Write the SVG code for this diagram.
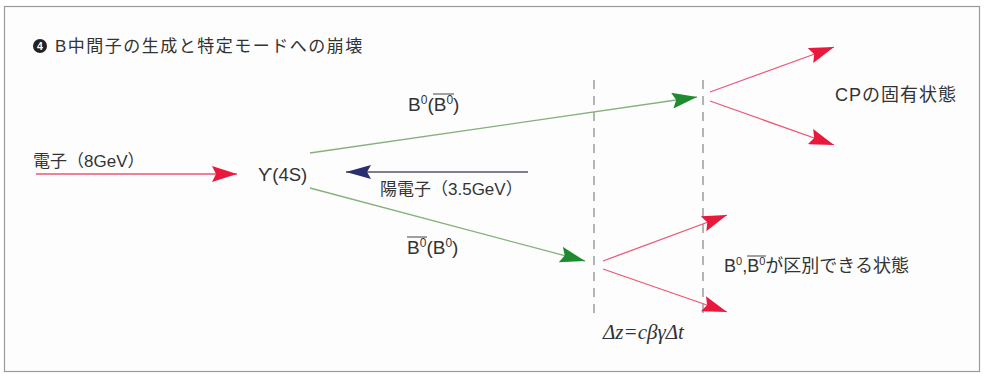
<svg xmlns="http://www.w3.org/2000/svg" width="985" height="379" viewBox="0 0 985 379">
<defs>
<style>
.t{font-family:"Liberation Sans","Noto Sans CJK JP",sans-serif;fill:#333}
.dash{stroke:#8a8f8c;stroke-width:1.3;stroke-dasharray:9,7;fill:none}
.red{stroke:#ee5577;stroke-width:1.3;fill:none}
.grn{stroke:#86b07a;stroke-width:1.3;fill:none}
.blu{stroke:#555566;stroke-width:1.3;fill:none}
.ol{stroke:#444;stroke-width:1}
</style>
<marker id="ar" markerWidth="25" markerHeight="16" refX="25" refY="8" orient="auto" markerUnits="userSpaceOnUse"><path d="M0,0 L25,8 L0,16 L4,8 Z" fill="#e8193c"/></marker>
<marker id="ag" markerWidth="25" markerHeight="16" refX="25" refY="8" orient="auto" markerUnits="userSpaceOnUse"><path d="M0,0 L25,8 L0,16 L4,8 Z" fill="#1f8a2e"/></marker>
<marker id="ab" markerWidth="25" markerHeight="14" refX="25" refY="7" orient="auto" markerUnits="userSpaceOnUse"><path d="M0,0 L25,7 L0,14 L4,7 Z" fill="#2a2f6e"/></marker>
</defs>
<rect x="0" y="0" width="985" height="379" fill="#fff"/>
<rect x="4.5" y="6.5" width="975" height="365" fill="#fdfdfd" stroke="#9a9a9a" stroke-width="1.2"/>
<g id="title">
<circle cx="40" cy="46" r="7" fill="#222"/>
<text x="40" y="50" font-size="10.5" text-anchor="middle" font-weight="bold" style="font-family:'Liberation Sans',sans-serif;fill:#fff">4</text>
<text class="t" x="55" y="52" font-size="17" letter-spacing="1.5">B中間子の生成と特定モードへの崩壊</text>
</g>
<g id="connectors">
<line class="dash" x1="594" y1="80" x2="594" y2="318"/>
<line class="dash" x1="703" y1="80" x2="703" y2="318"/>
<line class="red" x1="36" y1="174" x2="237" y2="174" marker-end="url(#ar)"/>
<line class="blu" x1="528" y1="172" x2="346" y2="172" marker-end="url(#ab)"/>
<line class="grn" x1="310" y1="153" x2="697" y2="97" marker-end="url(#ag)"/>
<line class="grn" x1="310" y1="188" x2="585" y2="261" marker-end="url(#ag)"/>
<line class="red" x1="710" y1="92" x2="834" y2="47" marker-end="url(#ar)"/>
<line class="red" x1="710" y1="101" x2="834" y2="145" marker-end="url(#ar)"/>
<line class="red" x1="603" y1="261" x2="727" y2="215" marker-end="url(#ar)"/>
<line class="red" x1="603" y1="269" x2="727" y2="312" marker-end="url(#ar)"/>
</g>
<g id="electron"><text class="t" x="33" y="167" font-size="17">電子（8GeV）</text></g>
<g id="upsilon"><text class="t" x="258" y="181" font-size="18.5">ϒ(4S)</text></g>
<g id="positron"><text class="t" x="380" y="195" font-size="17">陽電子（3.5GeV）</text></g>
<g id="b0top">
<text class="t" x="408" y="111" font-size="19">B<tspan font-size="12" dy="-7">0</tspan><tspan dy="7">(B</tspan><tspan font-size="12" dy="-7">0</tspan><tspan dy="7">)</tspan></text>
<line class="ol" x1="433" y1="94" x2="454" y2="94"/>
</g>
<g id="b0bottom">
<text class="t" x="407" y="254" font-size="19">B<tspan font-size="12" dy="-7">0</tspan><tspan dy="7">(B</tspan><tspan font-size="12" dy="-7">0</tspan><tspan dy="7">)</tspan></text>
<line class="ol" x1="407" y1="237" x2="427" y2="237"/>
</g>
<g id="cp"><text class="t" x="835" y="101" font-size="18" letter-spacing="1">CPの固有状態</text></g>
<g id="distinct">
<text class="t" x="724" y="272" font-size="18">B<tspan font-size="11" dy="-7">0</tspan><tspan dy="7">,B</tspan><tspan font-size="11" dy="-7">0</tspan><tspan dy="7">が区別できる状態</tspan></text>
<line class="ol" x1="747" y1="256" x2="766" y2="256"/>
</g>
<g id="formula"><text x="603" y="339" font-size="21" font-style="italic" style="font-family:'Liberation Serif',serif;fill:#333">Δz=cβγΔt</text></g>
</svg>
